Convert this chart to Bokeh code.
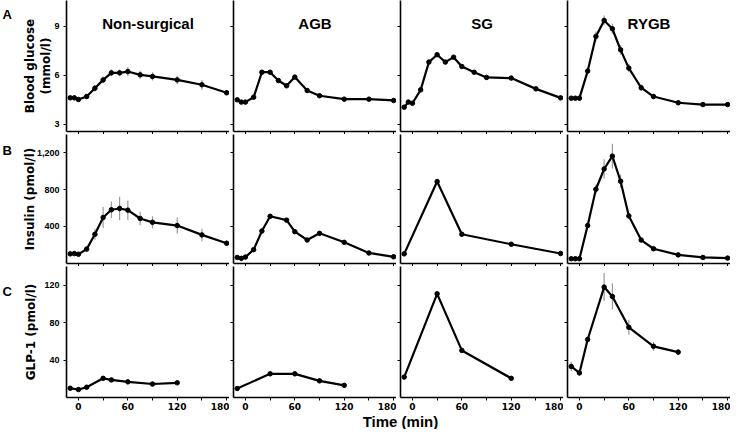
from bokeh.plotting import figure
from bokeh.layouts import gridplot, column
from bokeh.models import ColumnDataSource, Label, FixedTicker, NumeralTickFormatter, Range1d
from bokeh.embed import file_html
from bokeh.resources import INLINE

# ---------------- data ----------------
groups = ["Non-surgical", "AGB", "SG", "RYGB"]
panel_letters = ["A", "B", "C"]

t_full = [-10, -5, 0, 10, 20, 30, 40, 50, 60, 75, 90, 120, 150, 180]
t_agb_ins = [-10, -5, 0, 10, 20, 30, 50, 60, 75, 90, 120, 150, 180]
t_sg_ins = [-10, 30, 60, 120, 180]
t_glp_full = [-10, 0, 10, 30, 40, 60, 90, 120]
t_glp_agb = [-10, 30, 60, 90, 120]
t_glp_sg = [-10, 30, 60, 120]

glucose_ns = [4.63, 4.63, 4.53, 4.71, 5.22, 5.73, 6.16, 6.16, 6.24, 6.04, 5.94, 5.73, 5.43, 4.94]
glucose_agb = [4.51, 4.37, 4.37, 4.67, 6.20, 6.20, 5.69, 5.37, 5.90, 5.08, 4.76, 4.55, 4.55, 4.47]
glucose_sg = [4.06, 4.37, 4.30, 5.12, 6.82, 7.27, 6.82, 7.12, 6.55, 6.20, 5.88, 5.84, 5.18, 4.63]
glucose_rygb = [4.61, 4.61, 4.61, 6.27, 8.39, 9.37, 8.86, 7.57, 6.45, 5.25, 4.71, 4.33, 4.22, 4.22]
glucose_ns_err = [0.1, 0.1, 0.1, 0.12, 0.2, 0.2, 0.2, 0.2, 0.28, 0.25, 0.25, 0.25, 0.3, 0.15]
glucose_rygb_err = [0.05, 0.05, 0.05, 0.2, 0.3, 0.3, 0.3, 0.3, 0.25, 0.2, 0.15, 0.1, 0.1, 0.08]

insulin_ns = [98, 101, 94, 150, 312, 495, 579, 593, 575, 484, 442, 407, 305, 214]
insulin_agb = [59, 49, 63, 144, 347, 508, 466, 340, 249, 322, 224, 108, 66]
insulin_sg = [98, 887, 312, 203, 102]
insulin_rygb = [45, 45, 45, 407, 803, 1024, 1164, 890, 512, 249, 154, 87, 59, 52]
insulin_ns_err = [10, 10, 10, 25, 60, 115, 90, 128, 105, 74, 66, 88, 68, 30]
insulin_rygb_err = [8, 8, 8, 20, 53, 105, 135, 70, 30, 20, 12, 8, 6, 6]

glp1_ns = [9.9, 8.5, 11.0, 20.5, 18.8, 16.7, 14.4, 15.7]
glp1_agb = [9.6, 25.3, 25.3, 17.8, 13.0]
glp1_sg = [21.8, 110.8, 50.3, 20.5]
glp1_rygb = [33.2, 26.3, 62.0, 118.0, 108.0, 75.0, 54.7, 48.5]
glp1_rygb_err = [4.8, 3.0, 3.0, 15.0, 13.7, 8.0, 5.0, 3.4]

row_labels = ["Blood glucose\n(mmol/l)", "Insulin (pmol/l)", "GLP-1 (pmol/l)"]
row_yticks = [[3, 6, 9], [400, 800, 1200], [40, 80, 120]]
x_major = [0, 60, 120, 180]
x_minor = [30, 90, 150]
x_label = "Time (min)"

series = [
    [(t_full, glucose_ns, glucose_ns_err), (t_full, glucose_agb, None),
     (t_full, glucose_sg, None), (t_full, glucose_rygb, glucose_rygb_err)],
    [(t_full, insulin_ns, insulin_ns_err), (t_agb_ins, insulin_agb, None),
     (t_sg_ins, insulin_sg, None), (t_full, insulin_rygb, insulin_rygb_err)],
    [(t_glp_full, glp1_ns, None), (t_glp_agb, glp1_agb, None),
     (t_glp_sg, glp1_sg, None), (t_glp_full, glp1_rygb, glp1_rygb_err)],
]

# ---------------- layout / style ----------------
LETTER_W = 14
FRAME_W = 163
LEFT0 = 66 - LETTER_W
SEP = 4
frame_h = [131, 129, 131]
bottom_b = [3, 3, 15]
y_lims = [(2.57, 10.59), (-7, 1400), (0, 140)]
x_lim = (-14.5, 183.5)
label_standoff = [-2, -3, 3]
letter_y = [117, 113, 106]

BOLD_SANS = "Liberation Sans"
TICK_FONT = "DejaVu Sans"

rows = []
for r in range(3):
    fig_h = frame_h[r] + bottom_b[r]
    lf = figure(width=LETTER_W, height=fig_h, x_range=Range1d(0, 1), y_range=Range1d(0, 1),
                toolbar_location=None, output_backend="svg",
                x_axis_location=None, y_axis_location=None, min_border=0)
    lf.outline_line_color = None
    lf.grid.visible = False
    lf.add_layout(Label(x=2, y=letter_y[r], x_units="screen", y_units="screen",
                        text=panel_letters[r], text_font=BOLD_SANS, text_color="black",
                        text_font_style="bold", text_font_size="13px",
                        text_baseline="alphabetic"))
    row = [lf]
    for c in range(4):
        left = LEFT0 if c == 0 else SEP
        p = figure(width=left + FRAME_W, height=fig_h,
                   x_range=Range1d(*x_lim), y_range=Range1d(*y_lims[r]),
                   toolbar_location=None, output_backend="svg",
                   min_border_left=left, min_border_right=0,
                   min_border_top=0, min_border_bottom=bottom_b[r])
        p.outline_line_color = None
        p.grid.visible = False
        p.background_fill_color = "white"
        p.border_fill_color = "white"

        for ax in (p.xaxis[0], p.yaxis[0]):
            ax.axis_line_width = 1.6
            ax.axis_line_color = "black"
            ax.major_tick_out = 3
            ax.major_tick_in = 0
            ax.major_tick_line_color = "black"
            ax.major_tick_line_width = 1
            ax.minor_tick_out = 3
            ax.minor_tick_in = 0
            ax.minor_tick_line_color = "black"
            ax.minor_tick_line_width = 1
            ax.major_label_text_color = "black"
            ax.axis_label_text_color = "black"
        p.xaxis.ticker = FixedTicker(ticks=x_major, minor_ticks=x_minor)
        p.yaxis.ticker = FixedTicker(ticks=row_yticks[r], minor_ticks=[])
        p.yaxis.formatter = NumeralTickFormatter(format="0,0")

        if r == 2:
            p.xaxis.major_label_text_font = TICK_FONT
            p.xaxis.major_label_text_font_style = "bold"
            p.xaxis.major_label_text_font_size = "9px"
            p.xaxis.major_label_standoff = 2
        else:
            p.xaxis.major_label_overrides = {v: "" for v in x_major}
            p.xaxis.major_label_standoff = 0

        if c == 0:
            p.yaxis.major_label_text_font = BOLD_SANS
            p.yaxis.major_label_text_font_style = "bold"
            p.yaxis.major_label_text_font_size = "9px"
            p.yaxis.major_label_standoff = 4
            p.yaxis.axis_label = row_labels[r]
            p.yaxis.axis_label_text_font = TICK_FONT
            p.yaxis.axis_label_text_font_style = "bold"
            p.yaxis.axis_label_text_font_size = "12px"
            p.yaxis.axis_label_standoff = label_standoff[r]
        else:
            p.yaxis.major_label_overrides = {v: "" for v in row_yticks[r]}
            p.yaxis.major_label_standoff = 0

        if r == 0:
            p.add_layout(Label(x=FRAME_W / 2, y=frame_h[0] - 23, x_units="screen", y_units="screen",
                               text=groups[c], text_font=BOLD_SANS, text_font_style="bold",
                               text_color="black", text_font_size="15px", text_align="center",
                               text_baseline="alphabetic"))

        t, v, e = series[r][c]
        src = ColumnDataSource(dict(t=t, v=v))
        if e is not None:
            esrc = ColumnDataSource(dict(t=t, lo=[a - b for a, b in zip(v, e)],
                                         hi=[a + b for a, b in zip(v, e)]))
            p.segment(x0="t", y0="lo", x1="t", y1="hi", source=esrc,
                      line_color="#9a9a9a", line_width=1.2)
        p.line("t", "v", source=src, line_color="black", line_width=2.2)
        p.scatter("t", "v", source=src, size=4.5, color="black")
        row.append(p)
    rows.append(row)

grid = gridplot(rows, toolbar_location=None)

tf = figure(width=730, height=17, x_range=Range1d(0, 1), y_range=Range1d(0, 1),
            toolbar_location=None, output_backend="svg",
            x_axis_location=None, y_axis_location=None, min_border=0)
tf.outline_line_color = None
tf.grid.visible = False
tf.add_layout(Label(x=400, y=8.5, x_units="screen", y_units="screen", text=x_label,
                    text_font=BOLD_SANS, text_font_style="bold", text_font_size="15px",
                    text_color="black", text_align="center", text_baseline="middle"))

layout = column(grid, tf)
open("out.html", "w").write(file_html(layout, INLINE))
